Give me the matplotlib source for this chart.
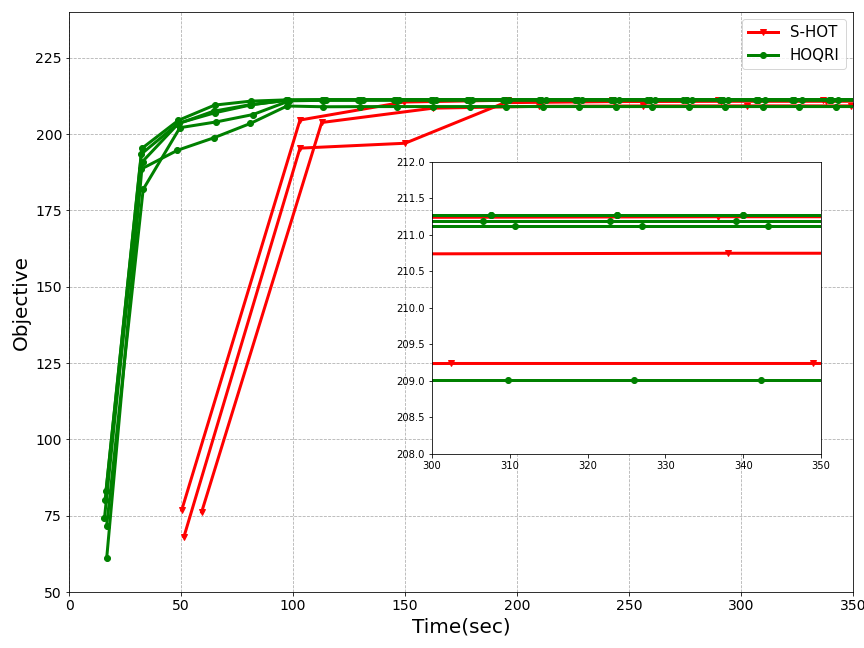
import matplotlib
matplotlib.use("Agg")
import matplotlib.pyplot as plt

# ---------------- data ----------------
# S-HOT runs (red)
shot_t1 = [50.3, 103.1, 149.5, 196.0, 242.5, 289.5, 336.8, 383.5]
shot_y1 = [76.8, 204.6, 210.5, 211.10, 211.22, 211.24, 211.25, 211.25]
shot_t2 = [51.3, 103.1, 150.0, 194.6, 243.5, 291.0, 338.1, 385.0]
shot_y2 = [68.1, 195.4, 197.0, 210.3, 210.65, 210.74, 210.75, 210.75]
shot_t3 = [59.2, 112.8, 162.6, 210.0, 256.4, 302.5, 349.0, 395.5]
shot_y3 = [76.2, 203.8, 208.5, 209.1, 209.22, 209.24, 209.24, 209.24]

# HOQRI runs (green)
hoqri_t1 = [16.5, 32.5, 48.8, 65.0, 81.2, 97.4, 113.6, 129.7, 145.9, 162.1, 178.3,
            194.5, 210.7, 226.9, 243.1, 259.3, 275.5, 291.6, 307.6, 323.8, 340.0, 356.2]
hoqri_y1 = [83.1, 195.3, 204.5, 209.5, 210.8, 211.22, 211.26, 211.27, 211.28, 211.28, 211.28,
            211.28, 211.28, 211.28, 211.28, 211.28, 211.28, 211.28, 211.28, 211.28, 211.28, 211.28]
hoqri_t2 = [16.1, 32.3, 48.4, 64.5, 80.7, 96.8, 112.9, 129.1, 145.2, 161.4, 177.5,
            193.6, 209.8, 225.9, 242.0, 258.2, 274.3, 290.5, 306.6, 322.9, 339.1, 355.2]
hoqri_y2 = [80.1, 193.5, 203.3, 207.5, 209.6, 211.05, 211.16, 211.18, 211.19, 211.19, 211.19,
            211.19, 211.19, 211.19, 211.19, 211.19, 211.19, 211.19, 211.19, 211.19, 211.19, 211.19]
hoqri_t3 = [16.8, 33.1, 49.5, 65.8, 82.1, 98.4, 114.8, 131.1, 147.4, 163.8, 180.1,
            196.4, 212.8, 229.1, 245.4, 261.7, 278.1, 294.4, 310.7, 327.0, 343.2, 359.5]
hoqri_y3 = [71.7, 181.9, 202.1, 204.0, 206.4, 210.9, 211.08, 211.11, 211.12, 211.12, 211.12,
            211.12, 211.12, 211.12, 211.12, 211.12, 211.12, 211.12, 211.12, 211.12, 211.12, 211.12]
hoqri_t4 = [15.8, 32.1, 48.4, 64.7, 81.0, 97.3, 113.6, 129.9, 146.2, 162.5, 178.8,
            195.1, 211.4, 227.7, 244.0, 260.3, 276.6, 292.9, 309.8, 326.0, 342.3, 358.6]
hoqri_y4 = [74.1, 188.5, 194.7, 198.8, 203.5, 209.2, 208.95, 209.0, 209.02, 209.02, 209.02,
            209.02, 209.02, 209.02, 209.02, 209.02, 209.02, 209.02, 209.02, 209.02, 209.02, 209.02]
hoqri_t5 = [16.8, 32.8, 49.0, 65.2, 81.4, 97.6, 113.8, 129.9, 146.1, 162.3, 178.5,
            194.7, 210.9, 227.1, 243.3, 259.5, 275.7, 291.8, 307.6, 323.8, 340.0, 356.2]
hoqri_y5 = [61.0, 191.0, 203.6, 207.0, 209.6, 211.1, 211.25, 211.27, 211.28, 211.28, 211.28,
            211.28, 211.28, 211.28, 211.28, 211.28, 211.28, 211.28, 211.28, 211.28, 211.28, 211.28]

shot_runs = [(shot_t1, shot_y1), (shot_t2, shot_y2), (shot_t3, shot_y3)]
hoqri_runs = [(hoqri_t1, hoqri_y1), (hoqri_t2, hoqri_y2), (hoqri_t3, hoqri_y3),
              (hoqri_t4, hoqri_y4), (hoqri_t5, hoqri_y5)]

main_xticks = [0, 50, 100, 150, 200, 250, 300, 350]
main_yticks = [50, 75, 100, 125, 150, 175, 200, 225]
inset_xticks = [300, 310, 320, 330, 340, 350]
inset_yticks = [208.0, 208.5, 209.0, 209.5, 210.0, 210.5, 211.0, 211.5, 212.0]

# ---------------- figure ----------------
fig = plt.figure(figsize=(12, 9), dpi=72)
ax = fig.add_axes([0.0799, 0.0864, 0.9074, 0.8951])

def draw(a, lw=3, ms=6):
    for i, (t, y) in enumerate(shot_runs):
        a.plot(t, y, color='red', marker='v', lw=lw, ms=ms,
               label='S-HOT' if i == 0 else None)
    for i, (t, y) in enumerate(hoqri_runs):
        a.plot(t, y, color='green', marker='o', lw=lw, ms=ms,
               label='HOQRI' if i == 0 else None)

draw(ax)
ax.set_xlim(0, 350)
ax.set_ylim(50, 240)
ax.set_xticks(main_xticks)
ax.set_yticks(main_yticks)
ax.tick_params(labelsize=14)
ax.grid(True, linestyle='--', color='#b0b0b0', lw=0.8)
ax.set_xlabel('Time(sec)', fontsize=20)
ax.set_ylabel('Objective', fontsize=20)
ax.legend(loc='upper right', fontsize=15)

ins = fig.add_axes([0.5, 0.2994, 0.4502, 0.4506])
draw(ins)
ins.set_xlim(300, 350)
ins.set_ylim(208, 212)
ins.set_xticks(inset_xticks)
ins.set_yticks(inset_yticks)
ins.tick_params(labelsize=10)

fig.savefig('out.png', dpi=72)
